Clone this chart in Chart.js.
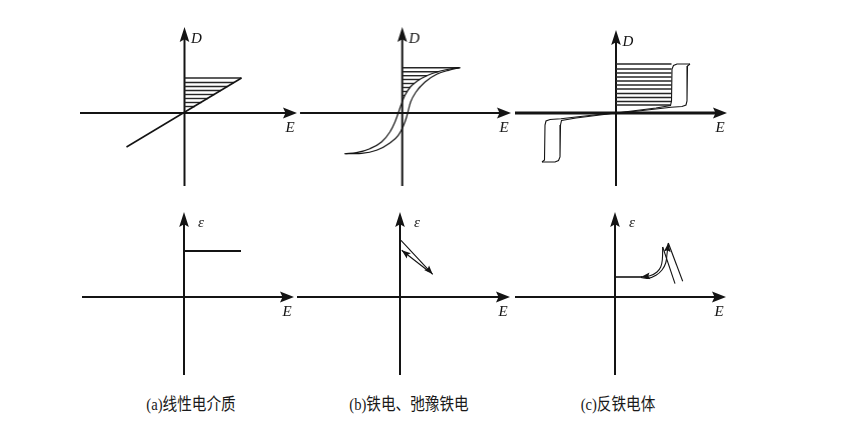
<!DOCTYPE html>
<html>
<head>
<meta charset="utf-8">
<script src="https://cdn.jsdelivr.net/npm/chart.js@4.4.1/dist/chart.umd.min.js"></script>
<style>
html,body{margin:0;padding:0;background:#fff;}
body{width:848px;height:428px;overflow:hidden;position:relative;}
canvas{position:absolute;}
.cap{position:absolute;top:395px;font-family:"Liberation Serif","Noto Sans CJK SC",serif;font-size:17px;line-height:19px;color:#1a1a1a;white-space:nowrap;transform:translateX(-50%) scaleX(0.86);}
</style>
</head>
<body>
<div class="cap" style="left:191px">(a)线性电介质</div>
<div class="cap" style="left:409px">(b)铁电、弛豫铁电</div>
<div class="cap" style="left:618px">(c)反铁电体</div>
<script>
// ---------------- DATA (arbitrary schematic units) ----------------
// (a) linear dielectric: D–E
const linE = [-58, 57];
const linD = [-34, 35];
const linHatchD = [35, 30.5, 26.5, 22.5, 18.5, 14.5, 10.5, 6.5];
const linHatchE = [57, 49.5, 43, 36.5, 30, 23.5, 17, 10.5];
// (a) linear dielectric: ε–E
const linEpsE = [0, 57];
const linEpsV = [46, 46];

// (b) ferroelectric / relaxor: D–E loop
const feUpE = [-57.3, -45.7, -32.3, -20.7, -12.3, -7.3, -4, -1.3, 2.7, 8, 15, 25, 38, 50, 57.7];
const feUpD = [-40.7, -39.7, -35.7, -29, -19, -9, 0, 7.7, 17.7, 26, 32, 37.5, 42, 44.5, 45.3];
const feLoE = [-57.3, -40.7, -25.7, -12.3, -4, 1, 4.3, 6, 8.3, 13.7, 22.7, 34.3, 46, 57.7];
const feLoD = [-40.7, -40.3, -37.3, -30, -22.3, -13.3, -4, 2.7, 11, 21, 31, 38.7, 42.7, 45.3];
const feHatchD = [45.3, 41.3, 37.3, 33.5, 29.5, 25.5, 21.5, 17.5, 13.5];
const feHatchE = [57, 36, 24.5, 17.5, 12, 7.7, 5, 2.6, 0.9];
// (b) ε–E
const feEpsFwdE = [1, 32.7];
const feEpsFwdV = [56.7, 22.7];
const feEpsRetE = [28.3, 1.7];
const feEpsRetV = [26, 46.7];

// (c) antiferroelectric: D–E double loop
const afRiseE = [0, 20, 40, 54.5, 55.5, 56, 57.5, 61, 74];
const afRiseD = [0, 2.5, 5, 7.5, 12, 44, 47.5, 49, 49];
const afFallE = [74, 71.5, 71, 70, 66, 55, 40, 20, 0];
const afFallD = [49, 47, 12, 8, 6.5, 5.8, 4, 1.8, 0];
const afNegRiseE = [0, -20, -40, -54.5, -55.5, -56, -57.5, -61, -74];
const afNegRiseD = [0, -2.5, -5, -7.5, -12, -44, -47.5, -49, -49];
const afNegFallE = [-74, -71.5, -71, -70, -66, -55, -40, -20, 0];
const afNegFallD = [-49, -47, -12, -8, -6.5, -5.8, -4, -1.8, 0];
const afHatchD = [49, 44, 40, 36, 32, 28, 24, 19.5, 15.5, 11.5, 8];
const afHatchE = [55.5, 55.5, 55.5, 55.5, 55.5, 55.5, 55.5, 55.5, 55.5, 55.5, 54.5];
// (c) ε–E
const afEpsBaseE = [0, 27];
const afEpsBaseV = [20, 20];
const afEpsFwdE = [26, 33, 41, 47, 50.7, 52, 53.3];
const afEpsFwdV = [19.5, 18.6, 21.7, 27, 34, 43, 54];
const afEpsDropOuterE = [53.3, 67.7];
const afEpsDropOuterV = [54, 15.7];
const afEpsDropInnerE = [60, 47.7];
const afEpsDropInnerV = [13.3, 50];
const afEpsRetE = [47.7, 47.3, 45.7, 42, 35, 26];
const afEpsRetV = [50, 37, 30, 25, 21.2, 20];

// ---------------- helpers ----------------
const INK = '#141414';
function pts(xs, ys) { return xs.map((x, i) => ({ x: x, y: ys[i] })); }
function curve(xs, ys, opt) {
  return Object.assign({
    data: pts(xs, ys), showLine: true, pointRadius: 0, borderColor: INK,
    borderWidth: 1.3, tension: 0, fill: false
  }, opt || {});
}
function hatch(levels, ends) {
  return levels.map((d, i) => curve([0, ends[i]], [d, d], { borderColor: '#262626', borderWidth: 1.4 }));
}

function head(ctx, x, y, ang, len, hw) {
  ctx.save();
  ctx.translate(x, y); ctx.rotate(ang);
  ctx.beginPath();
  ctx.moveTo(0, 0); ctx.lineTo(-len, -hw); ctx.lineTo(-len * 0.82, 0); ctx.lineTo(-len, hw);
  ctx.closePath(); ctx.fill();
  ctx.restore();
}

function makePlugin(p) {
  return {
    id: 'schem_' + p.id,
    beforeDatasetsDraw(chart) {
      const ctx = chart.ctx, sx = chart.scales.x, sy = chart.scales.y;
      const x0 = sx.getPixelForValue(0), y0 = sy.getPixelForValue(0);
      const xl = sx.getPixelForValue(p.x[0]), xr = sx.getPixelForValue(p.x[1]);
      const yb = sy.getPixelForValue(p.y[0]), yt = sy.getPixelForValue(p.y[1]);
      ctx.save();
      ctx.strokeStyle = INK; ctx.fillStyle = INK; ctx.lineWidth = p.axisW;
      ctx.beginPath();
      ctx.moveTo(xl, y0); ctx.lineTo(xr - 8, y0);
      ctx.stroke();
      ctx.lineWidth = 2;
      ctx.beginPath();
      ctx.moveTo(x0, yb); ctx.lineTo(x0, yt + 8);
      ctx.stroke();
      head(ctx, xr, y0, 0, 14, 5.5);
      head(ctx, x0, yt, -Math.PI / 2, 15, 4.8);
      // axis letters
      ctx.font = 'italic 15px "Liberation Serif", "DejaVu Serif", serif';
      ctx.textAlign = 'center'; ctx.textBaseline = 'middle';
      ctx.fillText('E', xr - 7, y0 + 15.5);
      if (p.yLabel === 'D') ctx.fillText('D', x0 + 12, yt + 12);
      else ctx.fillText('\u03b5', x0 + 17, yt + 11);
      ctx.restore();
    },
    afterDatasetsDraw(chart) {
      const ctx = chart.ctx;
      ctx.save(); ctx.fillStyle = INK;
      chart.data.datasets.forEach((ds, i) => {
        if (!ds.arrowEnd) return;
        const el = chart.getDatasetMeta(i).data;
        const a = el[el.length - 2], b = el[el.length - 1];
        head(ctx, b.x, b.y, Math.atan2(b.y - a.y, b.x - a.x), 9, 3.4);
      });
      ctx.restore();
    }
  };
}

const M = 10;
const panels = [
  { id: 'a1', ox: 184.5, oy: 113, x: [-104.5, 112.5], y: [-73, 86], yLabel: 'D', axisW: 2,
    datasets: [curve(linE, linD, { borderWidth: 1.6 })].concat(hatch(linHatchD, linHatchE)) },
  { id: 'b1', ox: 402, oy: 113, x: [-102, 108.5], y: [-73, 86], yLabel: 'D', axisW: 2,
    datasets: [
      curve(feUpE, feUpD, { cubicInterpolationMode: 'monotone', borderWidth: 1.2 }),
      curve(feLoE, feLoD, { cubicInterpolationMode: 'monotone', borderWidth: 1.2 })
    ].concat(hatch(feHatchD, feHatchE)) },
  { id: 'c1', ox: 616, oy: 113, x: [-101, 111], y: [-73, 83], yLabel: 'D', axisW: 2.8,
    datasets: [
      curve(afRiseE, afRiseD, { borderWidth: 1.1 }),
      curve(afFallE, afFallD, { borderWidth: 1.1 }),
      curve(afNegRiseE, afNegRiseD, { borderWidth: 1.1 }),
      curve(afNegFallE, afNegFallD, { borderWidth: 1.1 })
    ].concat(hatch(afHatchD, afHatchE)) },
  { id: 'a2', ox: 184, oy: 297, x: [-102, 110], y: [-78, 85], yLabel: 'e', axisW: 2,
    datasets: [curve(linEpsE, linEpsV, { borderWidth: 2 })] },
  { id: 'b2', ox: 400, oy: 297, x: [-103, 110], y: [-78, 85], yLabel: 'e', axisW: 2,
    datasets: [
      curve(feEpsFwdE, feEpsFwdV, { borderWidth: 1.1, arrowEnd: true }),
      curve(feEpsRetE, feEpsRetV, { borderWidth: 1.1, arrowEnd: true })
    ] },
  { id: 'c2', ox: 615, oy: 297, x: [-100, 111], y: [-78, 85], yLabel: 'e', axisW: 2,
    datasets: [
      curve(afEpsBaseE, afEpsBaseV, { borderWidth: 1.6 }),
      curve(afEpsFwdE, afEpsFwdV, { borderWidth: 1.1, tension: 0.4, arrowEnd: true }),
      curve(afEpsDropOuterE, afEpsDropOuterV, { borderWidth: 1.1 }),
      curve(afEpsDropInnerE, afEpsDropInnerV, { borderWidth: 1.1 }),
      curve(afEpsRetE, afEpsRetV, { borderWidth: 1.1, tension: 0.4, arrowEnd: true })
    ] }
];

panels.forEach(p => {
  const cv = document.createElement('canvas');
  const w = p.x[1] - p.x[0] + 2 * M, h = p.y[1] - p.y[0] + 2 * M;
  cv.width = w; cv.height = h;
  cv.style.width = w + 'px'; cv.style.height = h + 'px';
  cv.style.left = (p.ox + p.x[0] - M) + 'px';
  cv.style.top = (p.oy - p.y[1] - M) + 'px';
  document.body.appendChild(cv);
  new Chart(cv, {
    type: 'scatter',
    data: { datasets: p.datasets },
    options: {
      responsive: false, maintainAspectRatio: false, animation: false, events: [],
      layout: { padding: 0 },
      plugins: { legend: { display: false }, tooltip: { enabled: false } },
      scales: {
        x: { type: 'linear', display: false, min: p.x[0] - M, max: p.x[1] + M },
        y: { type: 'linear', display: false, min: p.y[0] - M, max: p.y[1] + M }
      }
    },
    plugins: [makePlugin(p)]
  });
});
</script>
</body>
</html>
